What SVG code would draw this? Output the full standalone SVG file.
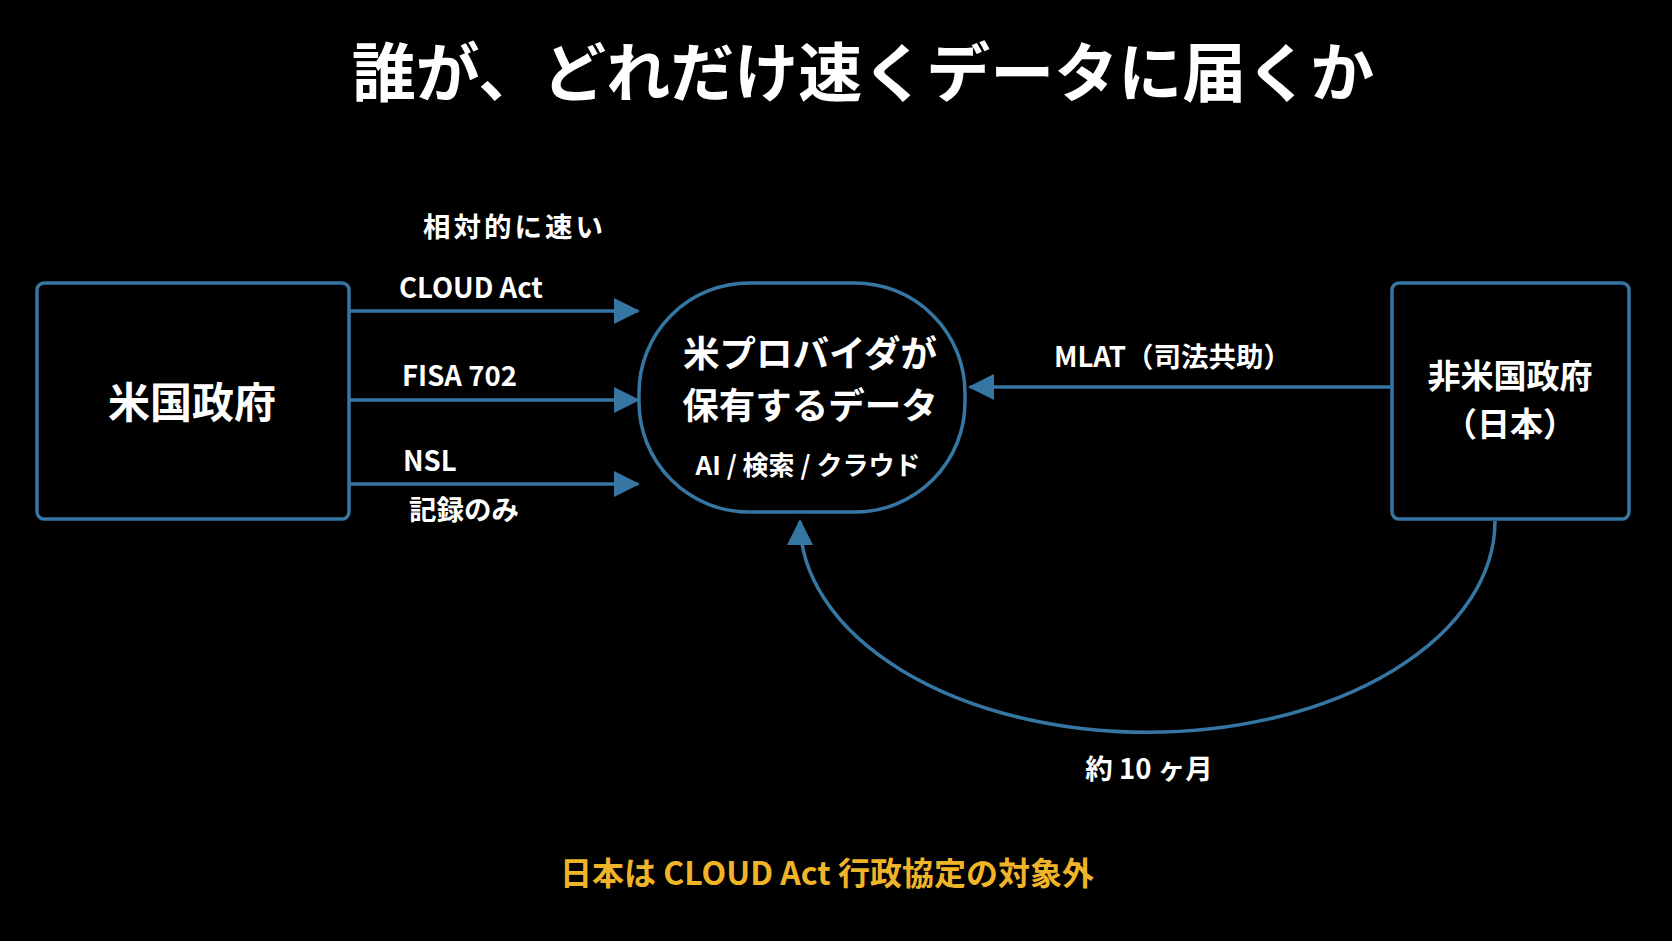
<svg xmlns="http://www.w3.org/2000/svg" width="1672" height="941" viewBox="0 0 1672 941">
<defs>
<style>
text{font-family:"Noto Sans CJK JP","Noto Sans",sans-serif;font-weight:700;fill:#ffffff}
.box{fill:#000;stroke:#3576a2;stroke-width:3.5}
.edge{fill:none;stroke:#3576a2;stroke-width:3.5}
.lbl{font-size:27.5px}
</style>
<marker id="ah" markerUnits="userSpaceOnUse" markerWidth="26" markerHeight="26" viewBox="0 0 26 26" refX="24" refY="13" orient="auto">
<path d="M0,0 L26,13 L0,26 Z" fill="#3576a2"/>
</marker>
</defs>
<rect width="1672" height="941" fill="#000"/>
<text x="863" y="96" font-size="64" text-anchor="middle">誰が、どれだけ速くデータに届くか</text>

<g id="edges">
<path class="edge" d="M349,311 L638,311" marker-end="url(#ah)"/>
<path class="edge" d="M349,400 L638,400" marker-end="url(#ah)"/>
<path class="edge" d="M349,484 L638,484" marker-end="url(#ah)"/>
<path class="edge" d="M1392,387 L970,387" marker-end="url(#ah)"/>
<path class="edge" d="M1495,521 A347,211 0 0 1 800,521" marker-end="url(#ah)"/>
<text class="lbl" x="423" y="237" letter-spacing="3">相対的に速い</text>
<text class="lbl" x="399" y="298">CLOUD Act</text>
<text class="lbl" x="402" y="386">FISA 702</text>
<text class="lbl" x="403" y="471">NSL</text>
<text class="lbl" x="409" y="520">記録のみ</text>
<text class="lbl" x="1054" y="367" font-size="28">MLAT（司法共助）</text>
<text class="lbl" x="1149" y="779" text-anchor="middle" font-size="29">約 10 ヶ月</text>
</g>

<g id="us-gov">
<rect class="box" x="37" y="283" width="312" height="236" rx="7"/>
<text x="192" y="418" font-size="42" text-anchor="middle">米国政府</text>
</g>

<g id="provider-data">
<rect class="box" x="639" y="283" width="326" height="229" rx="110" ry="110"/>
<text x="810" y="367" font-size="36.5" text-anchor="middle">米プロバイダが</text>
<text x="810" y="419" font-size="36.5" text-anchor="middle">保有するデータ</text>
<text x="808" y="475" font-size="26" text-anchor="middle">AI / 検索 / クラウド</text>
</g>

<g id="non-us-gov">
<rect class="box" x="1392" y="283" width="237" height="236" rx="7"/>
<text x="1510" y="388" font-size="33" text-anchor="middle">非米国政府</text>
<text x="1510" y="436" font-size="33" text-anchor="middle">（日本）</text>
</g>

<text x="827" y="885" font-size="32" text-anchor="middle" style="fill:#f0b429">日本は CLOUD Act 行政協定の対象外</text>
</svg>
